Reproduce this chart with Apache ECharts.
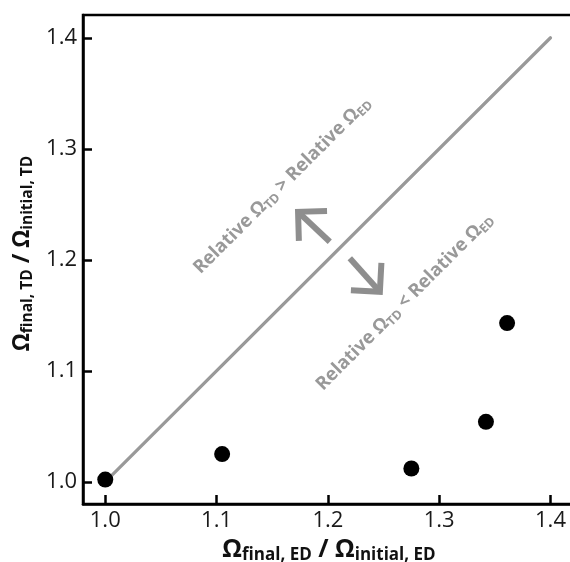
<!DOCTYPE html>
<html>
<head>
<meta charset="utf-8">
<script src="https://cdn.jsdelivr.net/npm/echarts@6/dist/echarts.min.js"></script>
<style>
  html, body { margin: 0; padding: 0; background: #fff; }
  #chart { width: 570px; height: 562px; }
</style>
</head>
<body>
<div id="chart"></div>
<script>
// Ratio of final to initial Omega, ED (x) vs TD (y)
const edRatio = [1.000, 1.105, 1.275, 1.342, 1.361];
const tdRatio = [1.002, 1.025, 1.012, 1.054, 1.143];

// y = x parity line
const parityX = [1.0, 1.4];
const parityY = [1.0, 1.4];

// Tick values shared by both axes
const tickValues = [1.0, 1.1, 1.2, 1.3, 1.4];

// Region annotations (centre in data units)
const noteX = [1.159, 1.269];
const noteY = [1.267, 1.162];
const noteText = [
  '{a|Relative Ω}{s|TD}{a| > Relative Ω}{s|ED}',
  '{a|Relative Ω}{s|TD}{a| < Relative Ω}{s|ED}'
];

// Direction arrows: tail -> tip, in data units
const arrowTailX = [1.2017, 1.2197];
const arrowTailY = [1.2162, 1.2013];
const arrowTipX = [1.1732, 1.2467];
const arrowTipY = [1.2432, 1.1712];

const points = edRatio.map((x, i) => [x, tdRatio[i]]);
const parity = parityX.map((x, i) => [x, parityY[i]]);
const notes = noteX.map((x, i) => [x, noteY[i], i]);
const arrows = arrowTailX.map((x, i) => [x, arrowTailY[i], arrowTipX[i], arrowTipY[i]]);

const GREY = '#999999';
const FONT = '"Open Sans", "Noto Sans", sans-serif';

function nameRich(big, small) {
  return {
    o: { fontFamily: FONT, fontWeight: 'bold', fontSize: big, lineHeight: big + 3, color: '#111' },
    s: { fontFamily: FONT, fontWeight: 'bold', fontSize: small, lineHeight: small, verticalAlign: 'bottom', color: '#111' }
  };
}

function axisCommon(name, rich, gap, max, namePad) {
  return {
    type: 'value',
    min: 0.98,
    max: max,
    name: name,
    nameLocation: 'middle',
    nameGap: gap,
    nameTextStyle: { rich: rich, padding: namePad },
    axisLine: { show: true, onZero: false, lineStyle: { color: '#000', width: 2.5 } },
    axisTick: { show: true, inside: true, length: 9, customValues: tickValues, lineStyle: { color: '#000', width: 2.5 } },
    axisLabel: {
      customValues: tickValues,
      formatter: v => v.toFixed(1),
      margin: 6,
      fontFamily: FONT, fontSize: 22, color: '#1a1a1a'
    },
    splitLine: { show: false }
  };
}

const chart = echarts.init(document.getElementById('chart'), null, { renderer: 'canvas' });

chart.setOption({
  animation: false,
  backgroundColor: '#fff',
  grid: {
    left: 83, top: 15, right: -5, bottom: 58,
    show: true, borderColor: '#000', borderWidth: 2.5,
    containLabel: false, outerBoundsMode: 'none'
  },
  xAxis: axisCommon('{o|Ω}{s|final, ED}{o| / Ω}{s|initial, ED}', nameRich(25, 17), 30, 1.422, 0),
  yAxis: axisCommon('{o|Ω}{s|final, TD}{o| / Ω}{s|initial, TD}', nameRich(23, 15.5), 44, 1.4205, [0, 0, 0, 12]),
  series: [
    {
      type: 'line',
      data: parity,
      symbol: 'none',
      lineStyle: { color: GREY, width: 3.2, cap: 'round' },
      z: 2
    },
    {
      type: 'custom',
      data: arrows,
      clip: false,
      z: 3,
      renderItem: function (params, api) {
        const tail = api.coord([api.value(0), api.value(1)]);
        const tip = api.coord([api.value(2), api.value(3)]);
        const dx = tip[0] - tail[0], dy = tip[1] - tail[1];
        const len = Math.sqrt(dx * dx + dy * dy);
        const ux = dx / len, uy = dy / len;
        const L = 29;
        const c = Math.SQRT1_2;
        // rotate the direction by +/-45 degrees for the two head legs
        const l1 = [tip[0] - L * (ux * c - uy * c), tip[1] - L * (ux * c + uy * c)];
        const l2 = [tip[0] - L * (ux * c + uy * c), tip[1] - L * (-ux * c + uy * c)];
        const style = { stroke: '#8e8e8e', lineWidth: 6, fill: null, lineJoin: 'miter', lineCap: 'butt' };
        return {
          type: 'group',
          children: [
            { type: 'polyline', shape: { points: [tail, tip] }, style: style },
            { type: 'polyline', shape: { points: [l1, tip, l2] }, style: style }
          ]
        };
      }
    },
    {
      type: 'custom',
      data: notes,
      clip: false,
      z: 3,
      renderItem: function (params, api) {
        const p = api.coord([api.value(0), api.value(1)]);
        return {
          type: 'text',
          x: p[0], y: p[1],
          rotation: Math.PI / 4,
          style: {
            text: noteText[api.value(2)],
            align: 'center',
            verticalAlign: 'middle',
            fill: GREY,
            rich: {
              a: { fontFamily: FONT, fontWeight: 'bold', fontSize: 18.5, lineHeight: 22, fill: GREY },
              s: { fontFamily: FONT, fontWeight: 'bold', fontSize: 12.5, lineHeight: 13, verticalAlign: 'bottom', fill: GREY }
            }
          }
        };
      }
    },
    {
      type: 'scatter',
      data: points,
      symbol: 'circle',
      symbolSize: 16,
      itemStyle: { color: '#000', opacity: 1 },
      z: 4
    }
  ]
});
</script>
</body>
</html>
